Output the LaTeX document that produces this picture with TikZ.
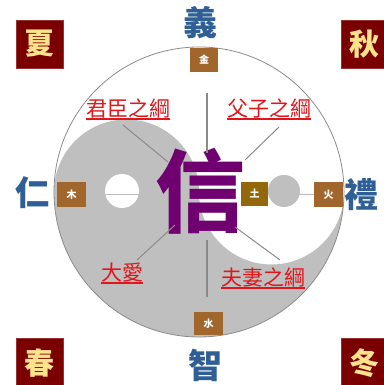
\documentclass[tikz,border=0pt]{standalone}
\usepackage{fontspec}
\newfontfamily\cjk{Noto Sans CJK TC}
\newcommand{\myul}[1]{\setbox0\hbox{#1}\rlap{\rule[-3.5pt]{\wd0}{1.3pt}}\box0}
\definecolor{yinGray}{HTML}{BFBFBF}
\definecolor{rimGray}{HTML}{8C8C8C}
\definecolor{spokeGray}{HTML}{8A8A8A}
\definecolor{elemBrown}{HTML}{A0662C}
\definecolor{earthBrown}{HTML}{93680A}
\definecolor{seasonRed}{HTML}{7A0000}
\definecolor{seasonText}{HTML}{FFE38C}
\definecolor{virtueBlue}{HTML}{2F5F94}
\definecolor{bondRed}{HTML}{E0161B}
\definecolor{xinPurple}{HTML}{700070}
\begin{document}
\begin{tikzpicture}[x=1pt,y=1pt,
  elem/.style={fill=elemBrown, text=white, minimum width=29pt, minimum height=25pt, inner sep=0pt, font=\cjk\bfseries\fontsize{10}{10}\selectfont},
  season/.style={fill=seasonRed, draw=seasonRed!80!white, line width=0.6pt, text=seasonText, minimum width=47pt, minimum height=48pt, inner sep=0pt, font=\cjk\bfseries\fontsize{30}{30}\selectfont},
  virtue/.style={text=virtueBlue, inner sep=0pt, font=\cjk\bfseries\fontsize{34}{34}\selectfont},
  bond/.style={text=bondRed, inner sep=0pt, font=\cjk\fontsize{21}{21}\selectfont},
  spoke/.style={draw=spokeGray, line width=1pt},
  hidden/.style={draw=yinGray, line width=1.2pt}]
\useasboundingbox (0,0) rectangle (383,385);
% yin-yang disc
\fill[white] (199,193) circle[radius=145];
\fill[yinGray] (54,193) arc[start angle=180, end angle=360, radius=145]
  arc[start angle=0, end angle=-180, radius=72.5]
  arc[start angle=0, end angle=180, radius=72.5] -- cycle;
\draw[rimGray, line width=0.8pt] (199,193) circle[radius=145];
\fill[white] (122,194) circle[radius=17];
\fill[yinGray] (284,194) circle[radius=16];
% central character
\node[text=xinPurple, inner sep=0pt, font=\cjk\bfseries\fontsize{90}{90}\selectfont] (xin) at (200,194) {信};
% element boxes
\node[elem, minimum width=28pt, minimum height=24pt] (jin) at (204,325) {金};
\node[elem] (mu) at (71.5,190.5) {木};
\node[elem, fill=earthBrown, minimum width=27pt, minimum height=24pt] (tu) at (254.5,191) {土};
\node[elem] (huo) at (328.5,190.5) {火};
\node[elem, minimum height=23pt] (shui) at (208.5,61.5) {水};
% faint horizontal connectors
\draw[hidden] (mu.east) -- (122,190.5) -- (139,190.5);
\draw[hidden] (tu.east) -- (huo.west);
% bonds
\node[bond] (junchen) at (128,276) {\myul{君臣之綱}};
\node[bond] (fuzi) at (269,276) {\myul{父子之綱}};
\node[bond] (daai) at (122,112) {\myul{大愛}};
\node[bond] (fuqi) at (263,107) {\myul{夫妻之綱}};
% spokes
\coordinate (ulA) at (123,260); \coordinate (ulB) at (168,223);
\coordinate (urA) at (279,258); \coordinate (urB) at (245,225);
\coordinate (llA) at (175,160); \coordinate (llB) at (137,125);
\coordinate (lrA) at (235,158); \coordinate (lrB) at (280,125);
\coordinate (vtA) at (207,292); \coordinate (vtB) at (207,232);
\coordinate (vbA) at (207,145); \coordinate (vbB) at (207,88);
\draw[spoke] (ulA) -- (ulB);
\draw[spoke] (urA) -- (urB);
\draw[spoke] (llA) -- (llB);
\draw[spoke] (lrA) -- (lrB);
\draw[spoke, line width=1.4pt] (vtA) -- (vtB);
\draw[spoke, line width=1.4pt] (vbA) -- (vbB);
% virtues
\node[virtue] (yi) at (200,362) {義};
\node[virtue] (ren) at (33,192) {仁};
\node[virtue] (li) at (361,190) {禮};
\node[virtue] (zhi) at (205,20) {智};
% seasons
\node[season] (xia) at (39.5,341) {夏};
\node[season] (qiu) at (364.5,341) {秋};
\node[season, minimum height=50pt] (chun) at (39.5,22) {春};
\node[season, minimum height=50pt] (dong) at (364.5,22) {冬};
\end{tikzpicture}
\end{document}
